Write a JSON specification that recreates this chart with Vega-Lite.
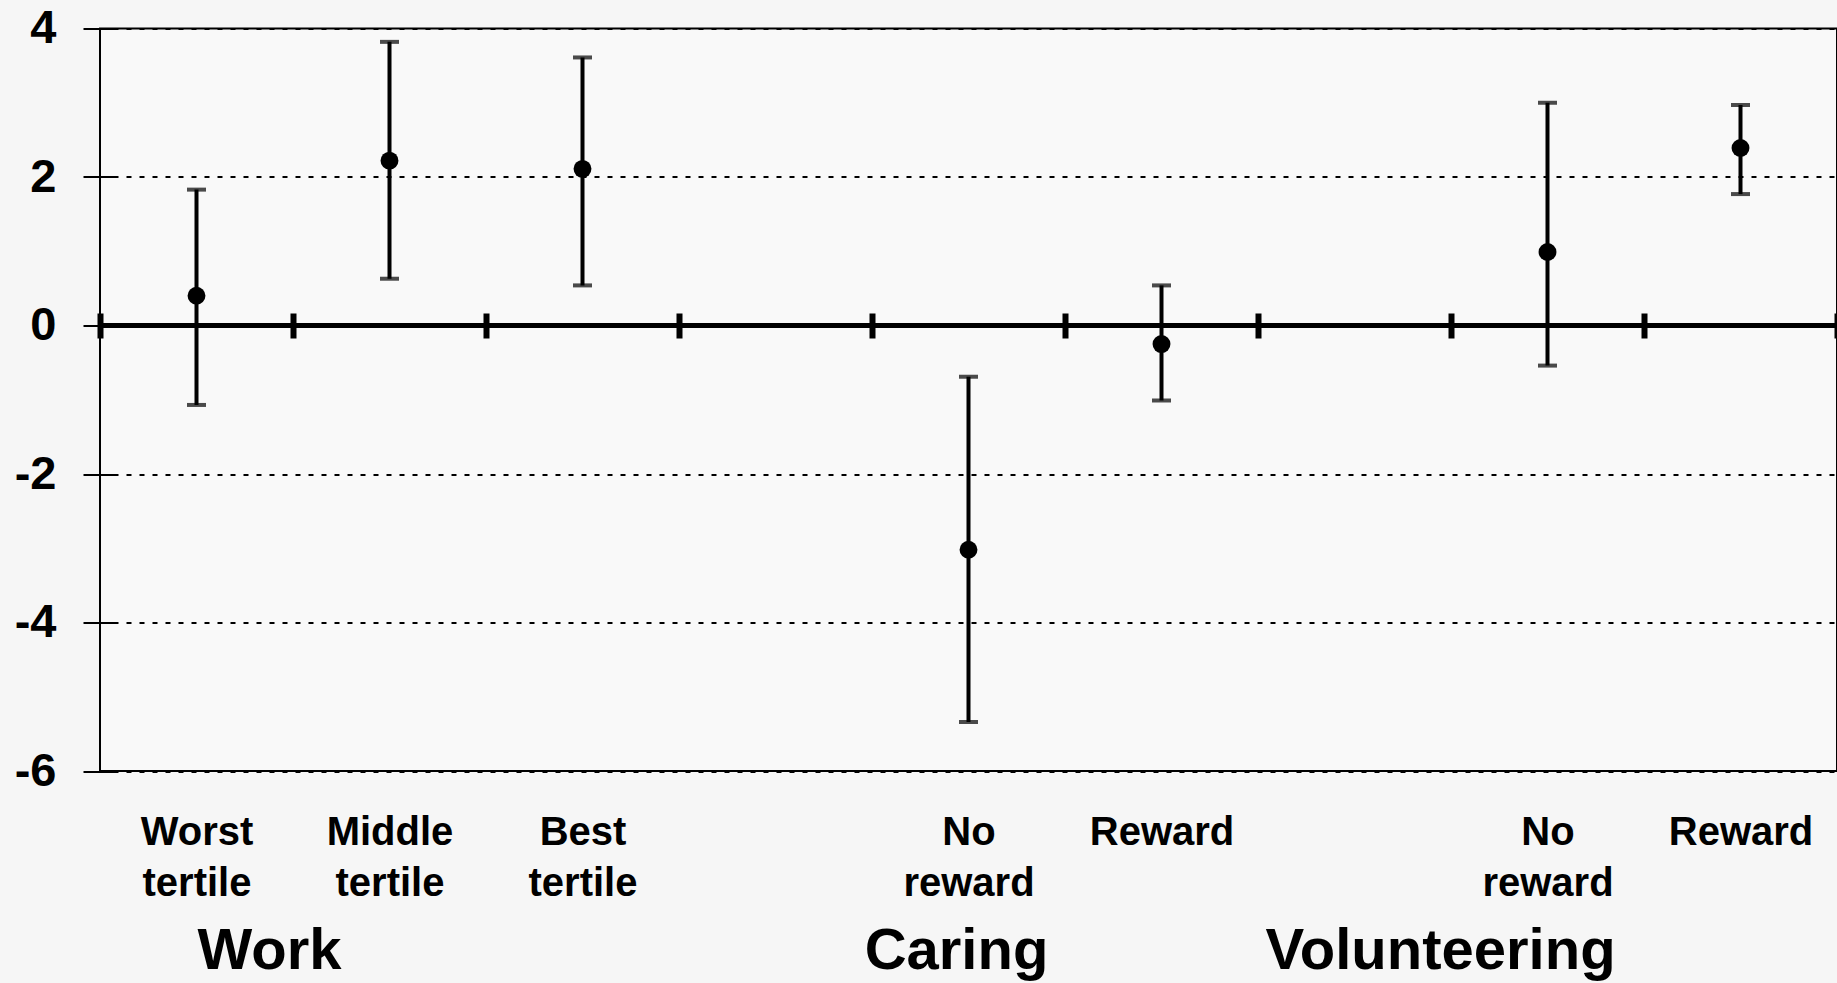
{
  "$schema": "https://vega.github.io/schema/vega-lite/v6.json",
  "width": 1737,
  "height": 742.5,
  "autosize": "none",
  "padding": {"left": 100, "top": 28.5, "right": 0, "bottom": 212},
  "background": "#f6f6f6",
  "config": {
    "view": {"stroke": "#000000", "strokeWidth": 2, "fill": "#f9f9f9"},
    "font": "Liberation Sans",
    "axis": {"labelFont": "Liberation Sans", "labelFontWeight": "bold", "labelColor": "#000000"}
  },
  "data": {
    "values": [
      {"key": "Work / Worst tertile", "mean": 0.40, "lo": -1.07, "hi": 1.83},
      {"key": "Work / Middle tertile", "mean": 2.22, "lo": 0.63, "hi": 3.82},
      {"key": "Work / Best tertile", "mean": 2.11, "lo": 0.54, "hi": 3.61},
      {"key": "Caring / No reward", "mean": -3.02, "lo": -5.34, "hi": -0.69},
      {"key": "Caring / Reward", "mean": -0.25, "lo": -1.01, "hi": 0.54},
      {"key": "Volunteering / No reward", "mean": 0.99, "lo": -0.54, "hi": 3.00},
      {"key": "Volunteering / Reward", "mean": 2.39, "lo": 1.77, "hi": 2.97}
    ]
  },
  "layer": [
    {
      "mark": {"type": "rule", "color": "#000000", "strokeWidth": 5},
      "encoding": {"y": {"datum": 0, "type": "quantitative"}}
    },
    {
      "mark": {"type": "rule", "color": "#000000", "strokeWidth": 4},
      "encoding": {
        "x": {
          "field": "key", "type": "nominal",
          "scale": {
            "type": "band", "paddingInner": 0, "paddingOuter": 0,
            "domain": ["Work / Worst tertile", "Work / Middle tertile", "Work / Best tertile", "(gap 1)", "Caring / No reward", "Caring / Reward", "(gap 2)", "Volunteering / No reward", "Volunteering / Reward"]
          },
          "axis": {
            "orient": "bottom", "title": null, "domain": false, "ticks": false,
            "grid": true, "tickBand": "extent", "gridColor": "#000000", "gridWidth": 6,
            "gridDash": [0, 284.5, 25, 3000],
            "labelExpr": "isString(datum.value) && indexof(datum.value, ' / ') >= 0 ? split(split(datum.value, ' / ')[1], ' ') : ''",
            "labelAngle": 0, "labelFontSize": 40, "labelLineHeight": 51, "labelPadding": 41,
            "labelBaseline": "top"
          }
        },
        "y": {
          "field": "lo", "type": "quantitative",
          "scale": {"domain": [-6, 4], "nice": false, "zero": false},
          "axis": {
            "title": null, "values": [-6, -4, -2, 0, 2, 4], "domain": false,
            "labelExpr": "'' + datum.value",
            "offset": -17, "tickSize": 34, "tickWidth": 2, "tickColor": "#000000",
            "grid": true, "gridDash": [5, 8], "gridColor": "#000000", "gridWidth": 2,
            "labelFontSize": 47, "labelPadding": 27
          }
        },
        "y2": {"field": "hi"}
      }
    },
    {
      "mark": {"type": "tick", "color": "#000000", "size": 19, "thickness": 4},
      "encoding": {
        "x": {"field": "key", "type": "nominal", "axis": null},
        "y": {"field": "lo", "type": "quantitative"}
      }
    },
    {
      "mark": {"type": "tick", "color": "#000000", "size": 19, "thickness": 4},
      "encoding": {
        "x": {"field": "key", "type": "nominal", "axis": null},
        "y": {"field": "hi", "type": "quantitative"}
      }
    },
    {
      "mark": {"type": "point", "filled": true, "color": "#000000", "size": 320, "opacity": 1},
      "encoding": {
        "x": {
          "field": "key", "type": "nominal",
          "axis": {
            "orient": "bottom", "title": null, "domain": false, "ticks": false, "grid": false,
            "labelExpr": "isString(datum.value) && (datum.value == 'Work / Worst tertile' || datum.value == 'Caring / No reward' || datum.value == 'Volunteering / No reward') ? split(datum.value, ' / ')[0] : ''",
            "labelOffset": {
              "condition": [
                {"test": "datum.value == 'Work / Worst tertile'", "value": 73},
                {"test": "datum.value == 'Caring / No reward'", "value": -12}
              ],
              "value": -107
            },
            "labelAngle": 0, "labelFontSize": 58, "labelPadding": 151, "labelBaseline": "top",
            "labelOverlap": false, "labelFlush": false, "labelBound": false, "labelLimit": 1000
          }
        },
        "y": {"field": "mean", "type": "quantitative"}
      }
    }
  ],
  "resolve": {"axis": {"x": "independent"}}
}
